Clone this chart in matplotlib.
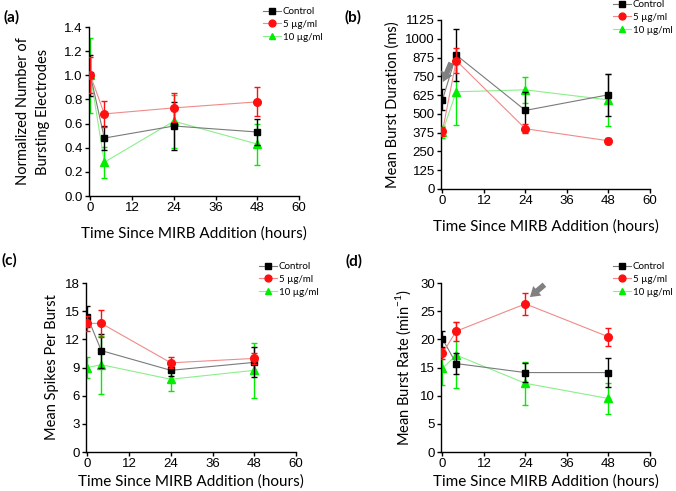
import numpy as np
import matplotlib.pyplot as plt

# time points (hours)
hours = [0, 4, 24, 48]
series_names = ['Control', '5 µg/ml', '10 µg/ml']

# (a) normalized number of bursting electrodes
a_ctrl = [1.00, 0.48, 0.58, 0.53]
a_ctrl_err = [0.17, 0.10, 0.20, 0.11]
a_5 = [1.00, 0.68, 0.73, 0.78]
a_5_err = [0.15, 0.11, 0.12, 0.12]
a_10 = [1.00, 0.28, 0.62, 0.43]
a_10_err = [0.31, 0.13, 0.22, 0.17]

# (b) mean burst duration (ms)
b_ctrl = [593, 892, 523, 627]
b_ctrl_err = [70, 170, 120, 140]
b_5 = [383, 855, 401, 321]
b_5_err = [30, 85, 30, 20]
b_10 = [380, 647, 660, 593]
b_10_err = [40, 220, 88, 175]

# (c) mean spikes per burst
c_ctrl = [14.4, 10.8, 8.7, 9.55]
c_ctrl_err = [1.1, 1.8, 0.6, 1.6]
c_5 = [13.7, 13.7, 9.5, 9.97]
c_5_err = [0.8, 1.4, 0.6, 0.6]
c_10 = [9.0, 9.3, 7.75, 8.7]
c_10_err = [1.1, 3.1, 1.2, 2.9]

# (d) mean burst rate (1/min)
d_ctrl = [20.1, 15.7, 14.1, 14.1]
d_ctrl_err = [1.4, 1.8, 1.7, 2.6]
d_5 = [17.5, 21.45, 26.3, 20.45]
d_5_err = [1.0, 1.7, 2.0, 1.65]
d_10 = [14.85, 17.2, 12.2, 9.5]
d_10_err = [3.0, 5.8, 3.8, 2.7]

line_cols = ['#7a7a7a', '#f08a8a', '#8af08a']
mark_cols = ['black', '#ff1010', '#00ee00']
markers = ['s', 'o', '^']
msizes = [4.2, 5.5, 5.5]
zorders = [3, 4, 2]

tickfont = 'Liberation Sans'
labfont = 'Lato'

fig = plt.figure(figsize=(6.76, 4.91), dpi=100)

# rect, data, errors, ylabel, yticks, tag, tag pos, legend pos, xlabel pad, ylabel pad
panels = [
    ([0.1317, 0.6008, 0.3107, 0.3442], (a_ctrl, a_5, a_10), (a_ctrl_err, a_5_err, a_10_err),
     'Normalized Number of\nBursting Electrodes', np.arange(0, 1.41, 0.2), '(a)', (3, 17), (263, 13), 9, 10),
    ([0.6524, 0.6151, 0.3090, 0.3442], (b_ctrl, b_5, b_10), (b_ctrl_err, b_5_err, b_10_err),
     'Mean Burst Duration (ms)', np.arange(0, 1126, 125), '(b)', (344, 17), (613, 6), 9, 4),
    ([0.1272, 0.0794, 0.3107, 0.3442], (c_ctrl, c_5, c_10), (c_ctrl_err, c_5_err, c_10_err),
     'Mean Spikes Per Burst', np.arange(0, 19, 3), '(c)', (1, 260), (259, 268), 3, 4),
    ([0.6524, 0.0794, 0.3090, 0.3442], (d_ctrl, d_5, d_10), (d_ctrl_err, d_5_err, d_10_err),
     'Mean Burst Rate (min$^{\\mathregular{-1}}$)', np.arange(0, 31, 5), '(d)', (345, 261), (613, 268), 3, 5),
]

W, H = 676.0, 491.0
axes = []
for rect, vals, errs, ylab, yt, tag, tagpos, legpos, xpad, ypad in panels:
    ax = fig.add_axes(rect)
    axes.append(ax)
    handles = []
    for i in range(3):
        ax.errorbar(hours, vals[i], yerr=errs[i], fmt='none', ecolor=mark_cols[i],
                    elinewidth=1, capsize=2.2, capthick=1, zorder=zorders[i])
        h, = ax.plot(hours, vals[i], color=line_cols[i], lw=0.8, marker=markers[i],
                     ms=msizes[i], mfc=mark_cols[i], mec=mark_cols[i], zorder=zorders[i] + 0.5,
                     label=series_names[i])
        handles.append(h)
    ax.set_xlim(-0.4, 60)
    ax.set_ylim(0, yt[-1])
    ax.set_xticks([0, 12, 24, 36, 48, 60])
    ax.set_yticks(yt)
    if tag == '(a)':
        ax.set_yticklabels(['%.1f' % v for v in yt])
    for s in ['top', 'right']:
        ax.spines[s].set_visible(False)
    for s in ['left', 'bottom']:
        ax.spines[s].set_linewidth(1)
    ax.tick_params(direction='out', length=3, width=1, labelsize=9.5, pad=1.5)
    for lab in ax.get_xticklabels() + ax.get_yticklabels():
        lab.set_fontfamily(tickfont)
    ax.set_xlabel('Time Since MIRB Addition (hours)', fontsize=11, family=labfont, labelpad=xpad)
    ax.set_ylabel(ylab, fontsize=10.5, family=labfont, labelpad=ypad, linespacing=1.55)
    fig.text(tagpos[0] / W, 1 - tagpos[1] / H, tag, fontsize=11, fontweight='bold',
             family=labfont, va='center', ha='left')
    ax.legend(handles=handles, loc='upper left',
              bbox_to_anchor=(legpos[0] / W, 1 - (legpos[1] - 6) / H),
              bbox_transform=fig.transFigure, frameon=False,
              prop={'family': labfont, 'size': 7}, handlelength=1.9, handletextpad=0.15,
              labelspacing=0.4, borderpad=0, borderaxespad=0, markerscale=0.9)

arrow = dict(arrowstyle='simple,head_width=0.9,head_length=0.7,tail_width=0.4',
             color='#808080', lw=0, shrinkA=0, shrinkB=0)
axes[1].annotate('', xy=(0.15, 712), xytext=(2.5, 840), arrowprops=arrow)
axes[3].annotate('', xy=(25.3, 27.5), xytext=(29.5, 29.7), arrowprops=arrow)

fig.savefig('out.png', dpi=100)
